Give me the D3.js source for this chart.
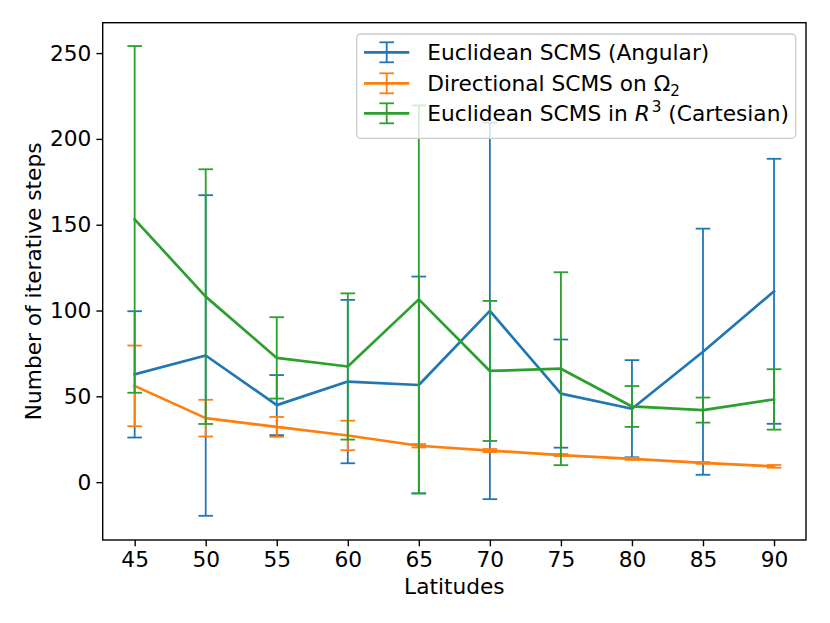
<!DOCTYPE html>
<html>
<head>
<meta charset="utf-8">
<script src="https://cdn.jsdelivr.net/npm/d3@7"></script>
<style>
  body { margin: 0; background: #fff; }
  text { font-family: "DejaVu Sans", sans-serif; fill: #000; }
</style>
</head>
<body>
<div id="chart"></div>
<script>
// latitudes on the x axis
var latitudes = [45, 50, 55, 60, 65, 70, 75, 80, 85, 90];

// mean number of iterative steps and std (error bar half-length)
var angularMean = [62.8, 73.8, 44.9, 58.6, 56.6, 99.8, 51.6, 42.8, 76.0, 111.2];
var angularStd  = [36.8, 93.4, 17.5, 47.6, 63.2, 109.7, 31.5, 28.3, 71.7, 77.2];

var directionalMean = [56.1, 37.3, 32.2, 27.2, 21.2, 18.4, 15.8, 13.6, 11.2, 9.2];
var directionalStd  = [23.5, 10.7, 5.8, 8.6, 1.0, 0.9, 0.6, 0.6, 0.5, 0.8];

var cartesianMean = [153.1, 108.1, 72.4, 67.4, 106.5, 64.8, 66.1, 44.1, 42.0, 48.2];
var cartesianStd  = [101.0, 74.2, 23.7, 42.6, 113.0, 40.8, 56.2, 11.9, 7.3, 17.6];

var xTicks = [45, 50, 55, 60, 65, 70, 75, 80, 85, 90];
var yTicks = [0, 50, 100, 150, 200, 250];

var series = [
  { name: "angular", mean: angularMean, std: angularStd, color: "#1f77b4" },
  { name: "directional", mean: directionalMean, std: directionalStd, color: "#ff7f0e" },
  { name: "cartesian", mean: cartesianMean, std: cartesianStd, color: "#2ca02c" }
];

var svgWidth = 830;
var svgHeight = 623;
var margin = { top: 22.7, right: 24, bottom: 83, left: 102.7 };
var width = svgWidth - margin.left - margin.right;
var height = svgHeight - margin.top - margin.bottom;
var fontSize = 21.7;

var svg = d3.select("#chart")
  .append("svg")
  .attr("width", svgWidth)
  .attr("height", svgHeight);

var chartGroup = svg.append("g")
  .attr("transform", `translate(${margin.left}, ${margin.top})`);

// matplotlib-like 5% padding around the data
var xLinearScale = d3.scaleLinear()
  .domain([42.75, 92.25])
  .range([0, width]);

var yLinearScale = d3.scaleLinear()
  .domain([-33.7, 267.7])
  .range([height, 0]);

var capHalf = 7.3;

series.forEach(function(s) {
  var g = chartGroup.append("g").attr("class", "series-" + s.name);
  var rows = latitudes.map(function(lat, i) {
    return { x: lat, m: s.mean[i], lo: s.mean[i] - s.std[i], hi: s.mean[i] + s.std[i] };
  });

  // vertical error bars
  g.selectAll("line.bar")
    .data(rows)
    .enter()
    .append("line")
    .attr("class", "bar")
    .attr("x1", d => xLinearScale(d.x))
    .attr("x2", d => xLinearScale(d.x))
    .attr("y1", d => yLinearScale(d.lo))
    .attr("y2", d => yLinearScale(d.hi))
    .attr("stroke", s.color)
    .attr("stroke-width", 1.8);

  // caps
  ["lo", "hi"].forEach(function(k) {
    g.selectAll("line.cap-" + k)
      .data(rows)
      .enter()
      .append("line")
      .attr("class", "cap-" + k)
      .attr("x1", d => xLinearScale(d.x) - capHalf)
      .attr("x2", d => xLinearScale(d.x) + capHalf)
      .attr("y1", d => yLinearScale(d[k]))
      .attr("y2", d => yLinearScale(d[k]))
      .attr("stroke", s.color)
      .attr("stroke-width", 1.8);
  });

  // mean line
  var line = d3.line()
    .x(d => xLinearScale(d.x))
    .y(d => yLinearScale(d.m));

  g.append("path")
    .datum(rows)
    .attr("d", line)
    .attr("fill", "none")
    .attr("stroke", s.color)
    .attr("stroke-width", 2.7)
    .attr("stroke-linejoin", "round")
    .attr("stroke-linecap", "square");
});

// axes
var bottomAxis = d3.axisBottom(xLinearScale)
  .tickValues(xTicks)
  .tickSize(6.3)
  .tickPadding(5);
var leftAxis = d3.axisLeft(yLinearScale)
  .tickValues(yTicks)
  .tickSize(6.3)
  .tickPadding(5);

var xAxisG = chartGroup.append("g")
  .attr("transform", `translate(0, ${height})`)
  .call(bottomAxis);
var yAxisG = chartGroup.append("g")
  .call(leftAxis);

[xAxisG, yAxisG].forEach(function(a) {
  a.select(".domain").remove();
  a.selectAll(".tick line").attr("stroke", "#000").attr("stroke-width", 1.4);
  a.selectAll(".tick text")
    .style("font-family", "DejaVu Sans, sans-serif")
    .style("font-size", fontSize + "px")
    .attr("fill", "#000");
});

// frame
chartGroup.append("rect")
  .attr("x", 0)
  .attr("y", 0)
  .attr("width", width)
  .attr("height", height)
  .attr("fill", "none")
  .attr("stroke", "#000")
  .attr("stroke-width", 1.4);

// axis labels
chartGroup.append("text")
  .attr("x", width / 2)
  .attr("y", height + 54)
  .attr("text-anchor", "middle")
  .style("font-size", fontSize + "px")
  .text("Latitudes");

chartGroup.append("text")
  .attr("transform", `translate(${41 - margin.left}, ${height / 2}) rotate(-90)`)
  .attr("text-anchor", "middle")
  .style("font-size", fontSize + "px")
  .text("Number of iterative steps");

// legend
var legend = svg.append("g")
  .attr("transform", "translate(356.7, 34)");

legend.append("rect")
  .attr("width", 439)
  .attr("height", 104.3)
  .attr("rx", 4)
  .attr("fill", "#fff")
  .attr("fill-opacity", 0.8)
  .attr("stroke", "#cccccc")
  .attr("stroke-width", 1.3);

var legendRows = [18.3, 49.3, 79.3];

series.forEach(function(s, i) {
  var row = legend.append("g")
    .attr("transform", `translate(0, ${legendRows[i]})`);
  row.append("line")
    .attr("x1", 7.3).attr("x2", 52.6)
    .attr("y1", 0).attr("y2", 0)
    .attr("stroke", s.color).attr("stroke-width", 2.7);
  row.append("line")
    .attr("x1", 30).attr("x2", 30)
    .attr("y1", -10).attr("y2", 10)
    .attr("stroke", s.color).attr("stroke-width", 1.8);
  [-10, 10].forEach(function(cy) {
    row.append("line")
      .attr("x1", 30 - capHalf).attr("x2", 30 + capHalf)
      .attr("y1", cy).attr("y2", cy)
      .attr("stroke", s.color).attr("stroke-width", 1.8);
  });
});

var labelX = 70.6;
var subSize = (fontSize * 0.7) + "px";
var lt1 = legend.append("text")
  .attr("x", labelX).attr("y", legendRows[0] + 7.8)
  .style("font-size", fontSize + "px")
  .text("Euclidean SCMS (Angular)");

var lt2 = legend.append("text")
  .attr("x", labelX).attr("y", legendRows[1] + 7.8)
  .style("font-size", fontSize + "px");
lt2.append("tspan").text("Directional SCMS on Ω");
lt2.append("tspan").attr("dy", 4.5).style("font-size", subSize).text("2");

var lt3 = legend.append("text")
  .attr("x", labelX).attr("y", legendRows[2] + 7.8)
  .style("font-size", fontSize + "px");
lt3.append("tspan").text("Euclidean SCMS in ");
lt3.append("tspan").style("font-style", "italic").text("R");
lt3.append("tspan").attr("dy", -9).attr("dx", 2).style("font-size", subSize).text("3");
lt3.append("tspan").attr("dy", 9).text(" (Cartesian)");
</script>
</body>
</html>
